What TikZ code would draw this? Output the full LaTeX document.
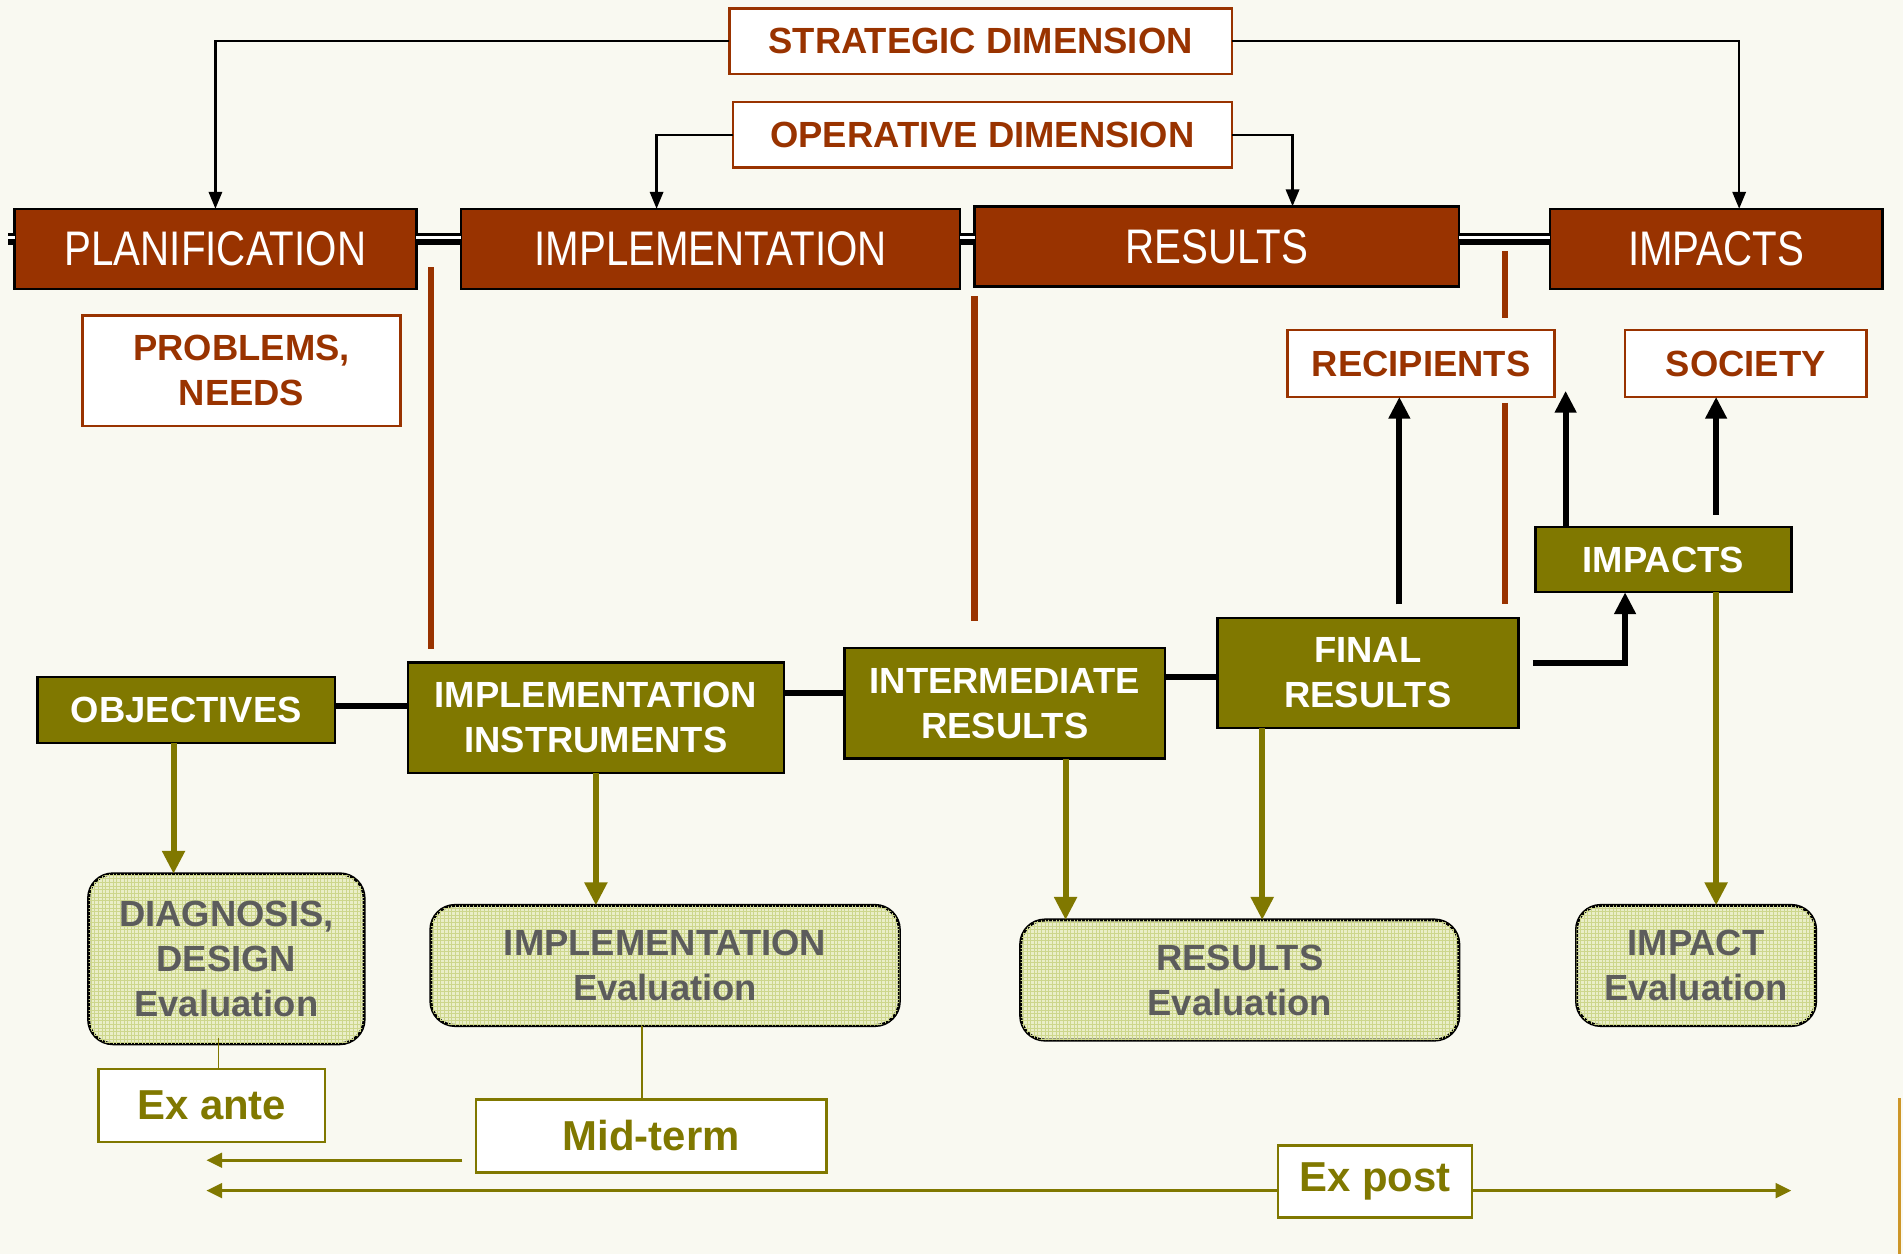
\documentclass[tikz,border=0pt]{standalone}
\usepackage{fontspec}
\setmainfont{Liberation Sans}
\newfontfamily\narrowfont[FakeStretch=0.83]{Liberation Sans}
\usetikzlibrary{arrows.meta,calc,patterns}
\definecolor{brn}{HTML}{993300}
\definecolor{oli}{RGB}{128,120,0}
\definecolor{evalfill}{RGB}{234,238,200}
\definecolor{evalgrid}{RGB}{205,214,140}
\definecolor{evaltext}{RGB}{92,92,92}
\definecolor{bgc}{RGB}{249,249,241}
\definecolor{edgegold}{RGB}{205,150,40}
\begin{document}
\begin{tikzpicture}[x=1pt,y=-1pt,
  hdr/.style={draw=black,line width=2pt,fill=brn,text=white,font={\narrowfont\fontsize{40}{40}\selectfont},inner sep=0pt,outer sep=0pt,anchor=north west},
  lbl/.style={draw=brn,line width=2pt,fill=white,text=brn,font={\bfseries\fontsize{30}{37}\selectfont},align=center,inner sep=0pt,outer sep=0pt,anchor=north west},
  obox/.style={draw=black,line width=2pt,fill=oli,text=white,font={\bfseries\fontsize{30}{37}\selectfont},align=center,inner sep=0pt,outer sep=0pt,anchor=north west},
  ebox/.style={draw=black,line width=2.5pt,fill=evalfill,postaction={pattern=grid,pattern color=evalgrid},rounded corners=20pt,text=evaltext,font={\bfseries\fontsize{30}{37}\selectfont},align=center,inner sep=0pt,outer sep=0pt,anchor=north west},
  tbox/.style={draw=oli,line width=2pt,fill=white,text=oli,font={\bfseries\fontsize{34.5}{40}\selectfont},inner sep=0pt,outer sep=0pt,anchor=north west},
  tarr/.style={draw=black,line width=2pt,-{Triangle[width=11pt,length=14pt]}},
  barr/.style={draw=black,line width=5pt,-{Triangle[width=17pt,length=18pt]}},
  bconn/.style={draw=black,line width=5pt},
  oarr/.style={draw=oli,line width=5pt,-{Triangle[width=18pt,length=19pt]}},
  othin/.style={draw=oli,line width=1.5pt},
  otarr/.style={draw=oli,line width=2.5pt,-{Triangle[width=12pt,length=13pt]}},
  bline/.style={draw=brn,line width=5.5pt}
]
\useasboundingbox (0,0) rectangle (1568,1033);
\fill[bgc] (0,0) rectangle (1568,1033);

% top dimension boxes
\node[lbl,minimum width=414pt,minimum height=54pt] (strat) at (601,7) {STRATEGIC DIMENSION};
\node[lbl,minimum width=411pt,minimum height=54pt] (oper) at (604,84) {OPERATIVE DIMENSION};

% header row
\node[hdr,minimum width=331pt,minimum height=66pt] (plan) at (12,172) {PLANIFICATION};
\node[hdr,minimum width=411pt,minimum height=66pt] (impl) at (380,172) {IMPLEMENTATION};
\node[hdr,minimum width=399pt,minimum height=66pt] (res) at (803,170) {RESULTS};
\node[hdr,minimum width=274pt,minimum height=66pt] (imp) at (1277,172) {IMPACTS};

% header double connectors
\coordinate (hy) at (0,197);
\coordinate (hw) at (0,195.5);
\coordinate (lstub) at (7,197);
\draw[line width=10pt] (lstub) -- (plan.west |- hy);
\draw[line width=10pt] (plan.east |- hy) -- (impl.west |- hy);
\draw[line width=10pt] (impl.east |- hy) -- (res.west |- hy);
\draw[line width=10pt] (res.east |- hy) -- (imp.west |- hy);
\draw[white,line width=2.5pt] (lstub |- hw) -- (plan.west |- hw);
\draw[white,line width=2.5pt] (plan.east |- hw) -- (impl.west |- hw);
\draw[white,line width=2.5pt] (impl.east |- hw) -- (res.west |- hw);
\draw[white,line width=2.5pt] (res.east |- hw) -- (imp.west |- hw);

% top arrows
\coordinate (xsr) at (1433,0);
\coordinate (xol) at (541,0);
\coordinate (xor) at (1065,0);
\draw[tarr] (strat.west) -| (plan.north);
\draw[tarr] (strat.east) -| (imp.north -| xsr);
\draw[tarr] (oper.west) -| (impl.north -| xol);
\draw[tarr] (oper.east) -| (res.north -| xor);

% brown separator lines
\coordinate (b1a) at (355,220); \coordinate (b1b) at (355,535);
\coordinate (b2a) at (803,244); \coordinate (b2b) at (803,512);
\coordinate (b3a) at (1240,207); \coordinate (b3b) at (1240,262);
\coordinate (b3c) at (1240,332); \coordinate (b3d) at (1240,498);
\draw[bline] (b1a) -- (b1b);
\draw[bline] (b2a) -- (b2b);
\draw[bline] (b3a) -- (b3b);
\draw[bline] (b3c) -- (b3d);

% brown label boxes
\node[lbl,minimum width=262pt,minimum height=91pt] (prob) at (68,260) {PROBLEMS,\\NEEDS};
\node[lbl,minimum width=220pt,minimum height=55pt] (rec) at (1061,272) {RECIPIENTS};
\node[lbl,minimum width=199pt,minimum height=55pt] (soc) at (1339,272) {SOCIETY};

% olive boxes
\node[obox,minimum width=245pt,minimum height=54pt] (obj) at (31,558) {OBJECTIVES};
\node[obox,minimum width=310pt,minimum height=91pt] (ins) at (336,546) {IMPLEMENTATION\\INSTRUMENTS};
\node[obox,minimum width=264pt,minimum height=91pt] (inter) at (696,534) {INTERMEDIATE\\RESULTS};
\node[obox,minimum width=248pt,minimum height=91pt] (fin) at (1003,509) {FINAL\\RESULTS};
\node[obox,minimum width=211pt,minimum height=54pt] (impo) at (1265,434) {IMPACTS};

% black connectors
\coordinate (y571) at (0,571);
\coordinate (y558) at (0,558);
\coordinate (y582) at (0,582);
\draw[bconn] (obj.east |- y582) -- (ins.west |- y582);
\draw[bconn] (ins.east |- y571) -- (inter.west |- y571);
\draw[bconn] (inter.east |- y558) -- (fin.west |- y558);
\coordinate (frs) at (1153,498);
\draw[barr] (frs) -- (rec.south -| frs);
\coordinate (fis) at (1263,546);
\coordinate (x1339) at (1339,0);
\draw[barr] (fis) -| (impo.south -| x1339);
\coordinate (x1290) at (1290,322);
\draw[barr] (impo.north -| x1290) -- (x1290);
\coordinate (isoc) at (1414,424);
\draw[barr] (isoc) -- (soc.south -| isoc);

% evaluation boxes
\node[ebox,minimum width=227pt,minimum height=140pt] (diag) at (73,720) {DIAGNOSIS,\\DESIGN\\Evaluation};
\node[ebox,minimum width=386pt,minimum height=99pt] (ie) at (355,746) {IMPLEMENTATION\\Evaluation};
\node[ebox,minimum width=361pt,minimum height=99pt] (re) at (841,758) {RESULTS\\Evaluation};
\node[ebox,minimum width=197pt,minimum height=99pt] (ime) at (1299,746) {IMPACT\\Evaluation};

% olive arrows
\coordinate (x143) at (143,0);
\coordinate (x491) at (491,0);
\coordinate (x878) at (878,0);
\coordinate (x1040) at (1040,0);
\coordinate (x1414) at (1414,0);
\draw[oarr] (obj.south -| x143) -- (diag.north -| x143);
\draw[oarr] (ins.south -| x491) -- (ie.north -| x491);
\draw[oarr] (inter.south -| x878) -- (re.north -| x878);
\draw[oarr] (fin.south -| x1040) -- (re.north -| x1040);
\draw[oarr] (impo.south -| x1414) -- (ime.north -| x1414);

% timing boxes
\node[tbox,minimum width=187pt,minimum height=60pt] (exa) at (81,881) {Ex ante};
\node[tbox,minimum width=289pt,minimum height=60pt] (mid) at (392,906) {Mid-term};
\node[tbox,minimum width=160pt,minimum height=59pt] (expo) at (1053,944) {Ex post};

\coordinate (x180) at (180,0);
\coordinate (x529) at (529,0);
\draw[othin] ([yshift=5pt]diag.south -| x180) -- (exa.north -| x180);
\draw[othin] (ie.south -| x529) -- (mid.north -| x529);

\coordinate (ml) at (381,956);
\coordinate (mle) at (170,956);
\coordinate (y981) at (0,981);
\coordinate (pl) at (170,981);
\coordinate (pr) at (1476,981);
\draw[otarr] (ml) -- (mle);
\draw[otarr] (expo.west |- y981) -- (pl);
\draw[otarr] (expo.east |- y981) -- (pr);

% right edge mark
\coordinate (ea) at (1565,905);
\coordinate (eb) at (1565,1033);
\draw[edgegold,line width=2pt] (ea) -- (eb);
\end{tikzpicture}
\end{document}
